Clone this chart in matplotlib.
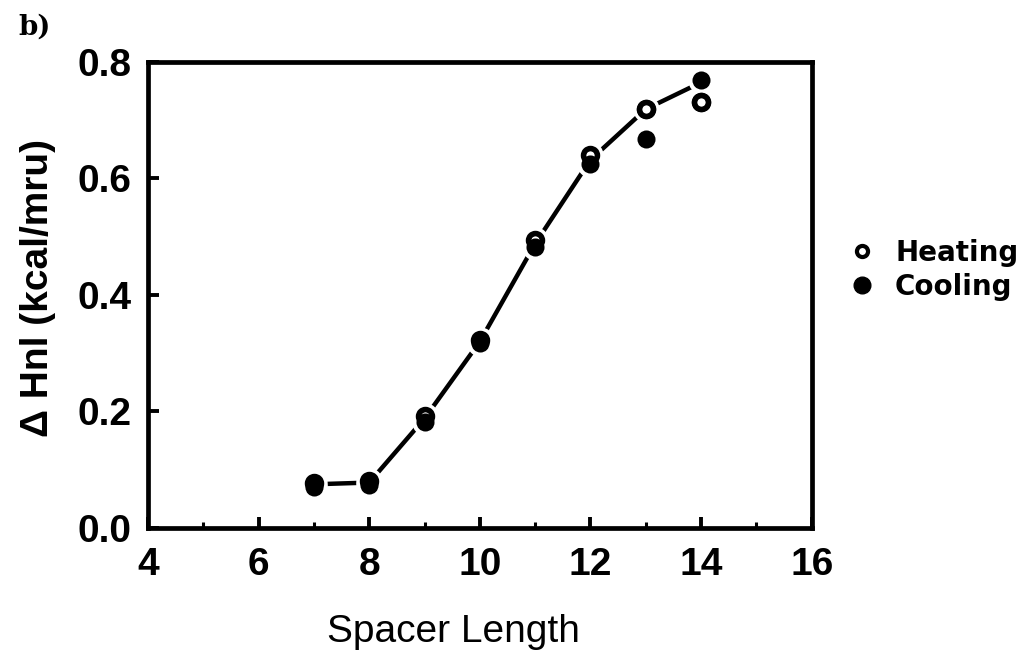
import matplotlib.pyplot as plt
from matplotlib.lines import Line2D

plt.rcParams['font.family'] = ['Liberation Sans', 'DejaVu Sans']

spacer = [7, 8, 9, 10, 11, 12, 13, 14]
heating = [0.078, 0.080, 0.192, 0.322, 0.495, 0.640, 0.719, 0.731]
cooling = [0.070, 0.074, 0.182, 0.318, 0.482, 0.625, 0.668, 0.769]
trend = [0.075, 0.078, 0.188, 0.320, 0.488, 0.632, 0.719, 0.765]

xticks = [4, 6, 8, 10, 12, 14, 16]
xminor = [5, 7, 9, 11, 13, 15]
yticks = [0.0, 0.2, 0.4, 0.6, 0.8]

fig = plt.figure(figsize=(10.26, 6.55), dpi=100)
ax = fig.add_axes([0.1442, 0.1939, 0.647, 0.7115])

ax.plot(spacer, trend, color='black', lw=3.2, zorder=1)
# white halo so the line stops short of the markers
ax.plot(spacer, cooling, 'o', ms=13, mfc='white', mec='white', mew=6, zorder=2)
ax.plot(spacer, heating, 'o', ms=13, mfc='white', mec='white', mew=6, zorder=2)
ax.plot(spacer, heating, 'o', ms=10, mfc='white', mec='black', mew=4, zorder=3)
ax.plot(spacer, cooling, 'o', ms=13, mfc='black', mec='black', mew=0, zorder=4)
# heating points that stand apart from the cooling ones
ax.plot(spacer[6:], heating[6:], 'o', ms=10, mfc='white', mec='black', mew=4, zorder=5)

ax.set_xlim(4, 16)
ax.set_ylim(0, 0.8)
ax.set_xticks(xticks)
ax.set_xticks(xminor, minor=True)
ax.set_yticks(yticks)
ax.tick_params(axis='both', which='major', direction='in', length=8, width=2.8,
               labelsize=28, top=False, right=False)
ax.tick_params(axis='x', which='major', pad=14)
ax.tick_params(axis='y', which='major', pad=12)
ax.tick_params(axis='x', which='minor', direction='in', length=4, width=2.2, top=False)
ax.set_xticklabels([str(v) for v in xticks], fontweight='bold')
ax.set_yticklabels(['%.1f' % v for v in yticks], fontweight='bold')
for s in ax.spines.values():
    s.set_linewidth(3.4)

fig.text(0.4415, 0.035, 'Spacer Length', fontsize=28, ha='center', va='center')
fig.text(0.037, 0.56, 'Δ Hnl (kcal/mru)', fontsize=28, fontweight='bold',
         rotation=90, ha='center', va='center')
fig.text(0.018, 0.958, 'b)', fontsize=20, fontweight='bold', family='DejaVu Serif',
         ha='left', va='center')

fig.legend(handles=[
    Line2D([], [], ls='none', marker='o', ms=8, mfc='white', mec='black', mew=3),
    Line2D([], [], ls='none', marker='o', ms=12, mfc='black', mec='black')],
    labels=['Heating', 'Cooling'], loc='center left', bbox_to_anchor=(0.802, 0.588),
    frameon=False, prop={'size': 20, 'weight': 'bold', 'family': 'DejaVu Sans'},
    handletextpad=0.7, handlelength=1.0, labelspacing=0.2)

fig.savefig('out.png', dpi=100)
